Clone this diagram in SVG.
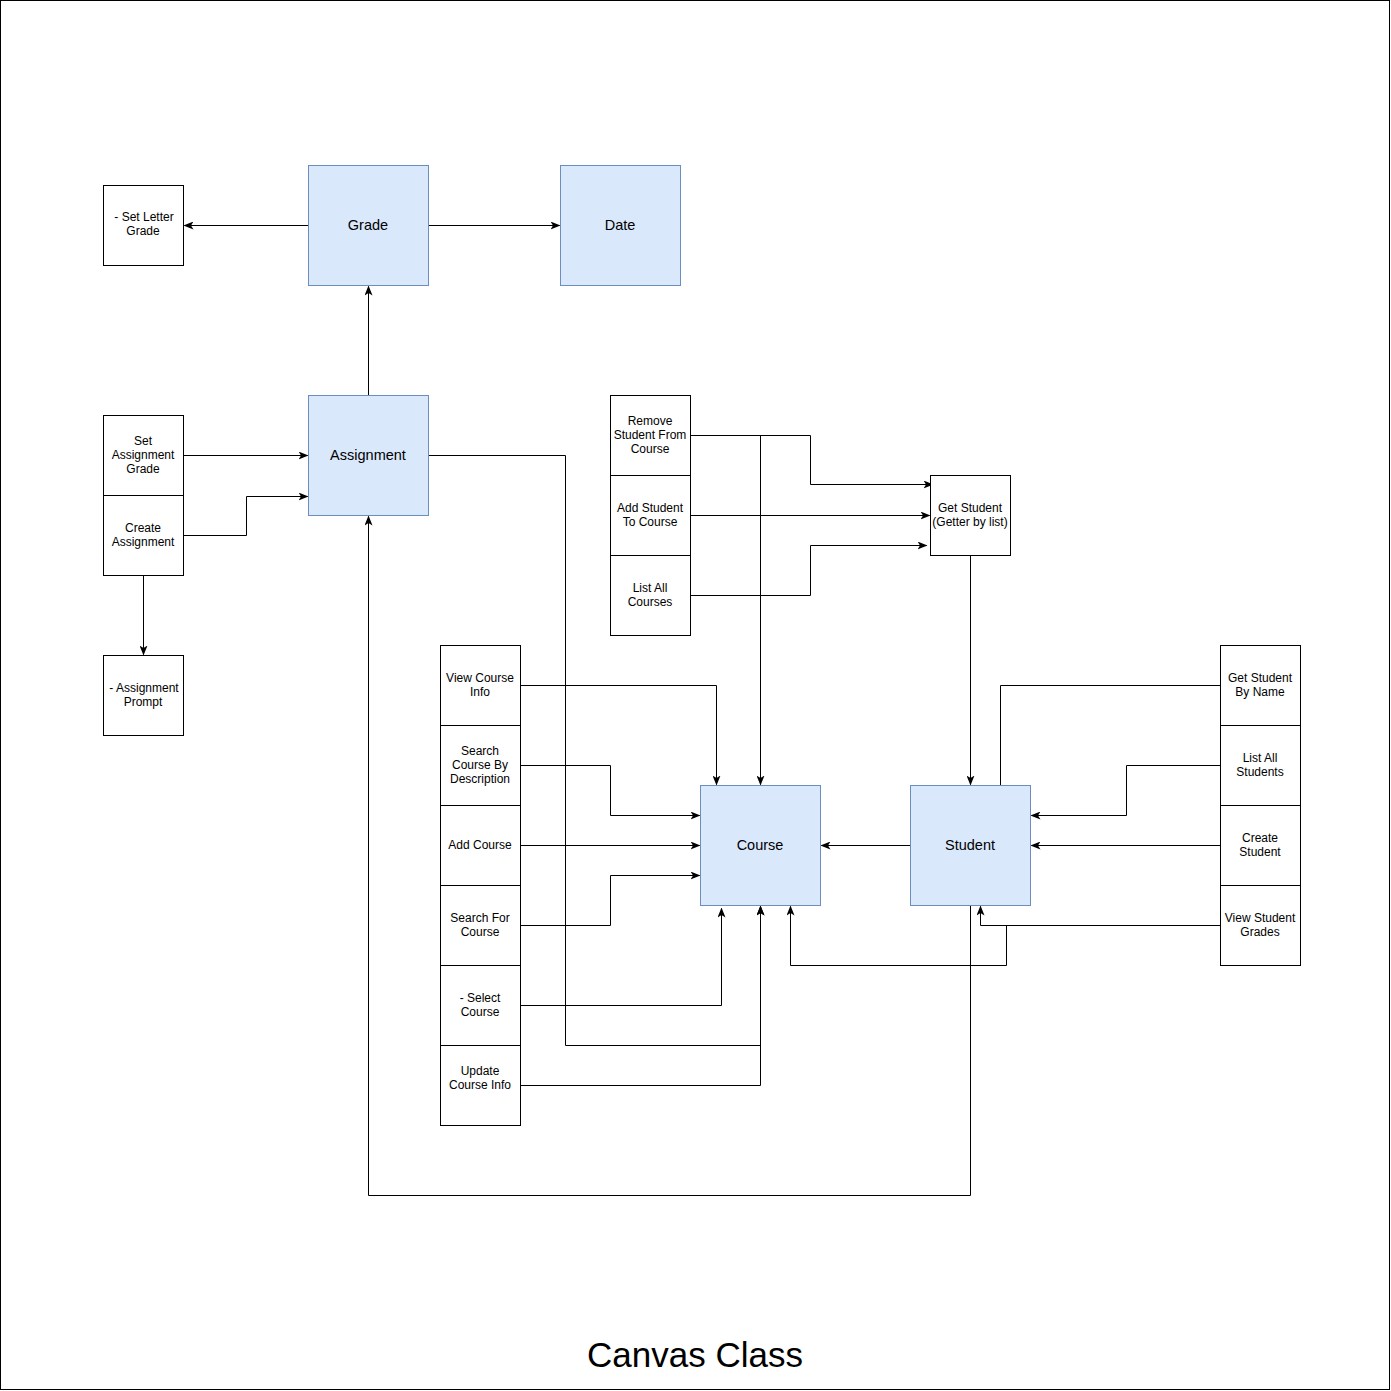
<svg xmlns="http://www.w3.org/2000/svg" width="1391" height="1391" viewBox="0 0 1391 1391">
<defs>
<marker id="arr" viewBox="0 0 10 8" refX="9" refY="4" markerWidth="10" markerHeight="8" markerUnits="userSpaceOnUse" orient="auto">
<path d="M0,0 L10,4 L0,8 L2.5,4 z" fill="#000"/>
</marker>
<style>
.box{fill:#fff;stroke:#000;stroke-width:1}
.cls{fill:#dae8fc;stroke:#6c8ebf;stroke-width:1}
.t{font-family:"Liberation Sans",Arial,sans-serif;font-size:12px;text-anchor:middle;fill:#000}
.T{font-family:"Liberation Sans",Arial,sans-serif;font-size:14.5px;text-anchor:middle;fill:#000}
.c{fill:none;stroke:#000;stroke-width:1}
.a{marker-end:url(#arr)}
</style>
</defs>
<rect x="0.5" y="0.5" width="1389" height="1389" fill="#fff" stroke="#000" stroke-width="1"/>

<g id="connectors" transform="translate(0.5,0.5)">
<path class="c a" d="M308,225 H184"/>
<path class="c a" d="M428,225 H559"/>
<path class="c a" d="M368,395 V286"/>
<path class="c a" d="M183,455 H307"/>
<path class="c a" d="M183,535 H246 V496 H307"/>
<path class="c a" d="M143,575 V654"/>
<path class="c a" d="M428,455 H565 V1045 H760 V906"/>
<path class="c a" d="M520,1085 H760 V906"/>
<path class="c a" d="M690,435 H810 V484 H932"/>
<path class="c a" d="M760,435 V784"/>
<path class="c a" d="M690,515 H929"/>
<path class="c a" d="M690,595 H810 V545 H926"/>
<path class="c a" d="M970,555 V784"/>
<path class="c a" d="M520,685 H716 V784"/>
<path class="c a" d="M520,765 H610 V815 H699"/>
<path class="c a" d="M520,845 H699"/>
<path class="c a" d="M520,925 H610 V875 H699"/>
<path class="c a" d="M520,1005 H721 V908"/>
<path class="c a" d="M910,845 H821"/>
<path class="c" d="M1220,685 H1000 V785"/>
<path class="c a" d="M1220,765 H1126 V815 H1031"/>
<path class="c a" d="M1220,845 H1031"/>
<path class="c a" d="M1220,925 H980 V906"/>
<path class="c a" d="M1006,925 V965 H790 V906"/>
<path class="c a" d="M970,905 V1195 H368 V516"/>
</g>

<g id="set-letter-grade"><rect class="box" x="103.5" y="185.5" width="80" height="80"/><text class="t" x="144" y="221">- Set Letter</text><text class="t" x="143" y="235">Grade</text></g>
<g id="grade"><rect class="cls" x="308.5" y="165.5" width="120" height="120"/><text class="T" x="368" y="230">Grade</text></g>
<g id="date"><rect class="cls" x="560.5" y="165.5" width="120" height="120"/><text class="T" x="620" y="230">Date</text></g>
<g id="assignment"><rect class="cls" x="308.5" y="395.5" width="120" height="120"/><text class="T" x="368" y="460">Assignment</text></g>
<g id="set-assignment-grade"><rect class="box" x="103.5" y="415.5" width="80" height="80"/><text class="t" x="143" y="445">Set</text><text class="t" x="143" y="459">Assignment</text><text class="t" x="143" y="473">Grade</text></g>
<g id="create-assignment"><rect class="box" x="103.5" y="495.5" width="80" height="80"/><text class="t" x="143" y="532">Create</text><text class="t" x="143" y="546">Assignment</text></g>
<g id="assignment-prompt"><rect class="box" x="103.5" y="655.5" width="80" height="80"/><text class="t" x="144" y="692">- Assignment</text><text class="t" x="143" y="706">Prompt</text></g>

<g id="remove-student"><rect class="box" x="610.5" y="395.5" width="80" height="80"/><text class="t" x="650" y="425">Remove</text><text class="t" x="650" y="439">Student From</text><text class="t" x="650" y="453">Course</text></g>
<g id="add-student"><rect class="box" x="610.5" y="475.5" width="80" height="80"/><text class="t" x="650" y="512">Add Student</text><text class="t" x="650" y="526">To Course</text></g>
<g id="list-all-courses"><rect class="box" x="610.5" y="555.5" width="80" height="80"/><text class="t" x="650" y="592">List All</text><text class="t" x="650" y="606">Courses</text></g>
<g id="get-student"><rect class="box" x="930.5" y="475.5" width="80" height="80"/><text class="t" x="970" y="512">Get Student</text><text class="t" x="970" y="526">(Getter by list)</text></g>

<g id="view-course-info"><rect class="box" x="440.5" y="645.5" width="80" height="80"/><text class="t" x="480" y="682">View Course</text><text class="t" x="480" y="696">Info</text></g>
<g id="search-course-desc"><rect class="box" x="440.5" y="725.5" width="80" height="80"/><text class="t" x="480" y="755">Search</text><text class="t" x="480" y="769">Course By</text><text class="t" x="480" y="783">Description</text></g>
<g id="add-course"><rect class="box" x="440.5" y="805.5" width="80" height="80"/><text class="t" x="480" y="849">Add Course</text></g>
<g id="search-for-course"><rect class="box" x="440.5" y="885.5" width="80" height="80"/><text class="t" x="480" y="922">Search For</text><text class="t" x="480" y="936">Course</text></g>
<g id="select-course"><rect class="box" x="440.5" y="965.5" width="80" height="80"/><text class="t" x="480" y="1002">- Select</text><text class="t" x="480" y="1016">Course</text></g>
<g id="update-course-info"><rect class="box" x="440.5" y="1045.5" width="80" height="80"/><text class="t" x="480" y="1075">Update</text><text class="t" x="480" y="1089">Course Info</text></g>

<g id="course"><rect class="cls" x="700.5" y="785.5" width="120" height="120"/><text class="T" x="760" y="850">Course</text></g>
<g id="student"><rect class="cls" x="910.5" y="785.5" width="120" height="120"/><text class="T" x="970" y="850">Student</text></g>

<g id="get-student-by-name"><rect class="box" x="1220.5" y="645.5" width="80" height="80"/><text class="t" x="1260" y="682">Get Student</text><text class="t" x="1260" y="696">By Name</text></g>
<g id="list-all-students"><rect class="box" x="1220.5" y="725.5" width="80" height="80"/><text class="t" x="1260" y="762">List All</text><text class="t" x="1260" y="776">Students</text></g>
<g id="create-student"><rect class="box" x="1220.5" y="805.5" width="80" height="80"/><text class="t" x="1260" y="842">Create</text><text class="t" x="1260" y="856">Student</text></g>
<g id="view-student-grades"><rect class="box" x="1220.5" y="885.5" width="80" height="80"/><text class="t" x="1260" y="922">View Student</text><text class="t" x="1260" y="936">Grades</text></g>

<text id="title" x="695" y="1367" style="font-family:'Liberation Sans',Arial,sans-serif;font-size:35px;text-anchor:middle;fill:#000">Canvas Class</text>
</svg>
